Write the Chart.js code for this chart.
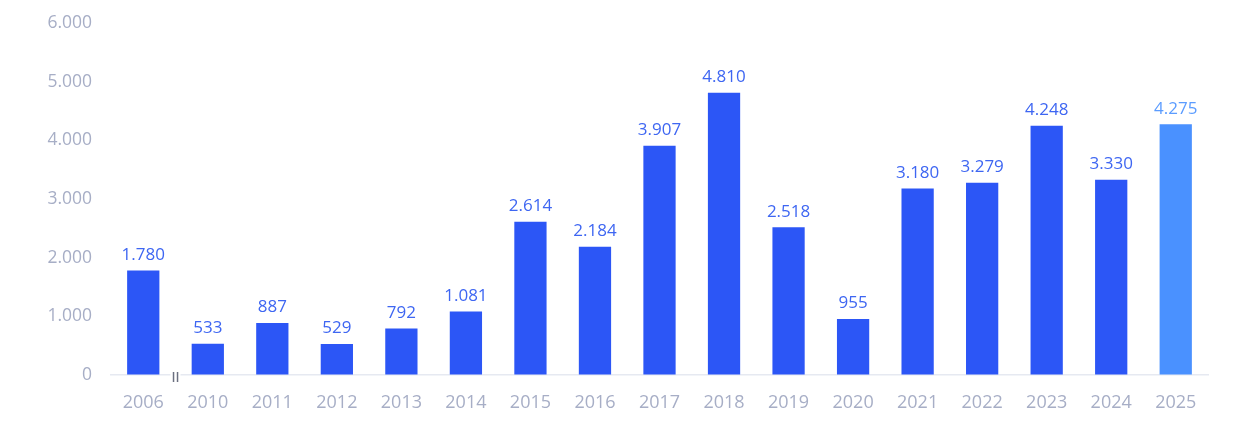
<!DOCTYPE html>
<html>
<head>
<meta charset="utf-8">
<script src="https://cdn.jsdelivr.net/npm/chart.js@4/dist/chart.umd.min.js"></script>
<style>
  html, body { margin: 0; padding: 0; background: #fff; }
  canvas { display: block; }
</style>
</head>
<body>
<canvas id="chart" width="1236" height="438"></canvas>
<script>
var years = ["2006", "2010", "2011", "2012", "2013", "2014", "2015", "2016", "2017", "2018", "2019", "2020", "2021", "2022", "2023", "2024", "2025"];
var values = [1780, 533, 887, 529, 792, 1081, 2614, 2184, 3907, 4810, 2518, 955, 3180, 3279, 4248, 3330, 4275];
var yTicks = [0, 1000, 2000, 3000, 4000, 5000, 6000];

var barColor = "#2c56f6";
var lastColor = "#4a91ff";

function fmt(n) {
    return String(n).replace(/\B(?=(\d{3})+(?!\d))/g, ".");
}

// value labels above bars + the axis break mark between 2006 and 2010
var extras = {
    id: 'extras',
    afterDatasetsDraw: function (chart) {
        var ctx = chart.ctx;
        var meta = chart.getDatasetMeta(0);
        ctx.save();
        ctx.font = "17px 'Open Sans'";
        ctx.textAlign = "center";
        ctx.textBaseline = "bottom";
        meta.data.forEach(function (bar, i) {
            ctx.fillStyle = i == values.length - 1 ? "#5b9cff" : "#3e66f2";
            ctx.fillText(fmt(values[i]), bar.x, bar.y - 7);
        });

        var x = chart.scales.x;
        var bx = (x.getPixelForValue(0) + x.getPixelForValue(1)) / 2;
        var by = chart.chartArea.bottom;
        ctx.fillStyle = "#fff";
        ctx.fillRect(bx - 5, by - 2, 10, 4);
        ctx.strokeStyle = "#6b7080";
        ctx.lineWidth = 1.5;
        ctx.beginPath();
        ctx.moveTo(bx - 2, by - 3); ctx.lineTo(bx - 2, by + 7);
        ctx.moveTo(bx + 2, by - 3); ctx.lineTo(bx + 2, by + 7);
        ctx.stroke();
        ctx.restore();
    }
};

var ctx = document.getElementById('chart');

var chartGraph = new Chart(ctx, {
    type: 'bar',
    data: {
        labels: years,
        datasets: [{
            data: values,
            backgroundColor: values.map(function (v, i) { return i == values.length - 1 ? lastColor : barColor; }),
            barPercentage: 0.5,
            categoryPercentage: 1
        }]
    },
    options: {
        responsive: false,
        animation: false,
        devicePixelRatio: 1,
        layout: { padding: { top: 23, right: 28, left: 0, bottom: 0 } },
        plugins: {
            legend: { display: false },
            tooltip: { enabled: false }
        },
        scales: {
            x: {
                grid: { display: false, drawTicks: false },
                border: { display: true, color: "#e6e9f1", width: 1.5 },
                ticks: { color: "#a7aec6", font: { family: "Open Sans", size: 18 }, padding: 17 },
                afterFit: function (s) { s.height = 63; }
            },
            y: {
                min: 0,
                max: 6000,
                grid: { display: true, drawOnChartArea: false, drawTicks: true, tickLength: 16, color: "rgba(0,0,0,0)" },
                border: { display: false },
                afterBuildTicks: function (s) { s.ticks = yTicks.map(function (v) { return { value: v }; }); },
                ticks: {
                    color: "#a7aec6",
                    font: { family: "Open Sans", size: 17.5 },
                    padding: 3,
                    callback: function (v) { return fmt(v); }
                },
                afterFit: function (s) { s.width = 111; }
            }
        }
    },
    plugins: [extras]
});
</script>
</body>
</html>
